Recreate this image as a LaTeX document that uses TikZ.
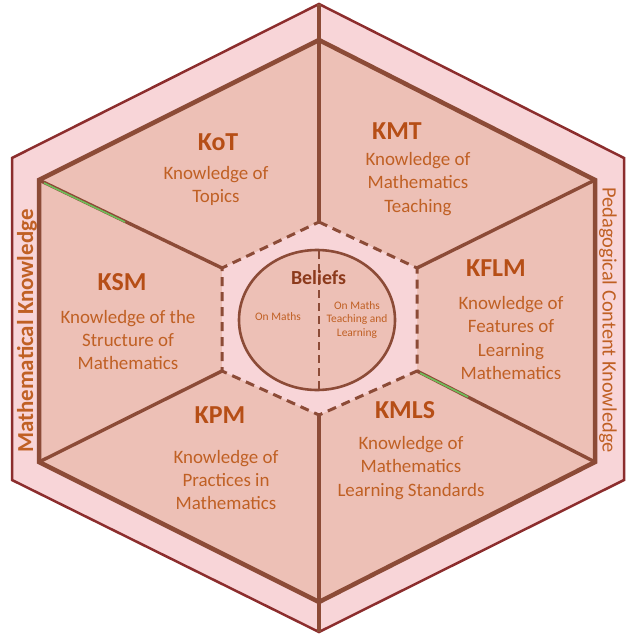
\documentclass[tikz,border=0pt]{standalone}
\usepackage{fontspec}
\setmainfont{Carlito}
\definecolor{bandpink}{RGB}{248,213,216}
\definecolor{sectorcol}{RGB}{237,192,182}
\definecolor{outerline}{RGB}{140,45,45}
\definecolor{divline}{RGB}{140,75,55}
\definecolor{titlecol}{RGB}{182,78,22}
\definecolor{bodycol}{RGB}{192,96,36}
\definecolor{beliefcol}{RGB}{140,58,28}
\definecolor{artgreen}{RGB}{110,190,90}
\begin{document}
\begin{tikzpicture}[x=1bp,y=-1bp,
  titletext/.style={text=titlecol,font=\fontsize{26}{30}\selectfont\bfseries,inner sep=0pt},
  bodytext/.style={text=bodycol,font=\fontsize{19}{23.5}\selectfont,align=center,inner sep=0pt},
  smalltext/.style={text=bodycol,font=\fontsize{11.5}{13.5}\selectfont,align=center,inner sep=0pt},
  sidetext/.style={text=bodycol,inner sep=0pt},
  divider/.style={draw=divline,line width=3.4bp},
  dashline/.style={draw=divline,line width=3bp,dash pattern=on 9bp off 6bp}]
\useasboundingbox (0,0) rectangle (640,639);
% outer hexagon vertices
\coordinate (OT) at (319,4);
\coordinate (OUR) at (624,158);
\coordinate (OLR) at (624,480);
\coordinate (OB) at (319,632);
\coordinate (OLL) at (12,480);
\coordinate (OUL) at (12,158);
% inner hexagon vertices
\coordinate (IT) at (319,40);
\coordinate (IUR) at (595,180);
\coordinate (ILR) at (595,462);
\coordinate (IB) at (319,602);
\coordinate (ILL) at (39,462);
\coordinate (IUL) at (39,180);
% centre hexagon vertices
\coordinate (CT) at (319,222);
\coordinate (CUR) at (417,268);
\coordinate (CLR) at (417,371);
\coordinate (CB) at (319,415);
\coordinate (CLL) at (222,371);
\coordinate (CUL) at (222,268);
% outer band
\filldraw[fill=bandpink,draw=outerline,line width=2.5bp,line join=miter]
  (OT) -- (OUR) -- (OLR) -- (OB) -- (OLL) -- (OUL) -- cycle;
% inner hexagon
\filldraw[fill=sectorcol,draw=divline,line width=4.5bp,line join=miter]
  (IT) -- (IUR) -- (ILR) -- (IB) -- (ILL) -- (IUL) -- cycle;
% dividers
\draw[divider,line width=4.5bp] (OT) -- (CT);
\draw[divider,line width=4.5bp] (CB) -- (OB);
\draw[divider] (CUR) -- (IUR);
\draw[divider] (CLR) -- (ILR);
\draw[divider] (CLL) -- (ILL);
\draw[divider] (CUL) -- (IUL);
% faint green traces on two dividers
\draw[artgreen,line width=1.6bp] (44,183) -- (125,222);
\draw[artgreen,line width=1.6bp] (420,373) -- (468,397);
% centre hexagon
\fill[bandpink] (CT) -- (CUR) -- (CLR) -- (CB) -- (CLL) -- (CUL) -- cycle;
\draw[dashline] (CT) -- (CUR) -- (CLR) -- (CB) -- (CLL) -- (CUL) -- cycle;
% beliefs circle
\filldraw[fill=sectorcol,draw=divline,line width=2.6bp] (317,320) ellipse [x radius=78, y radius=70];
\coordinate (CircT) at (319,251);
\coordinate (CircB) at (319,389);
\draw[dashline,line width=2.6bp,dash pattern=on 8bp off 5bp] (CircT) -- (CircB);
% titles and descriptions
\node[titletext] (kot) at (218,142) {KoT};
\node[bodytext] (kotd) at (216,186) {Knowledge of\\Topics};
\node[titletext] (kmt) at (397,131) {KMT};
\node[bodytext] (kmtd) at (418,184) {Knowledge of\\Mathematics\\Teaching};
\node[titletext] (ksm) at (122,282) {KSM};
\node[bodytext] (ksmd) at (128,340) {Knowledge of the\\Structure of\\Mathematics};
\node[titletext] (kflm) at (496,268) {KFLM};
\node[bodytext] (kflmd) at (511,338) {Knowledge of\\Features of\\Learning\\Mathematics};
\node[titletext] (kpm) at (220,415) {KPM};
\node[bodytext] (kpmd) at (226,480) {Knowledge of\\Practices in\\Mathematics};
\node[titletext] (kmls) at (405,410) {KMLS};
\node[bodytext] (kmlsd) at (411,468) {Knowledge of\\Mathematics\\Learning Standards};
% beliefs
\node[text=beliefcol,font=\fontsize{20}{24}\selectfont\bfseries,inner sep=0pt] (beliefs) at (318.5,278) {Beliefs};
\node[smalltext] (onmaths) at (278,317) {On Maths};
\node[smalltext] (onteach) at (357,320) {On Maths\\Teaching and\\Learning};
% side labels
\node[sidetext,rotate=90,font=\fontsize{23}{26}\selectfont\bfseries] (mk) at (27,331) {Mathematical Knowledge};
\node[sidetext,rotate=-90,font=\fontsize{20.5}{24}\selectfont] (pck) at (608,320) {Pedagogical Content Knowledge};
\end{tikzpicture}
\end{document}
